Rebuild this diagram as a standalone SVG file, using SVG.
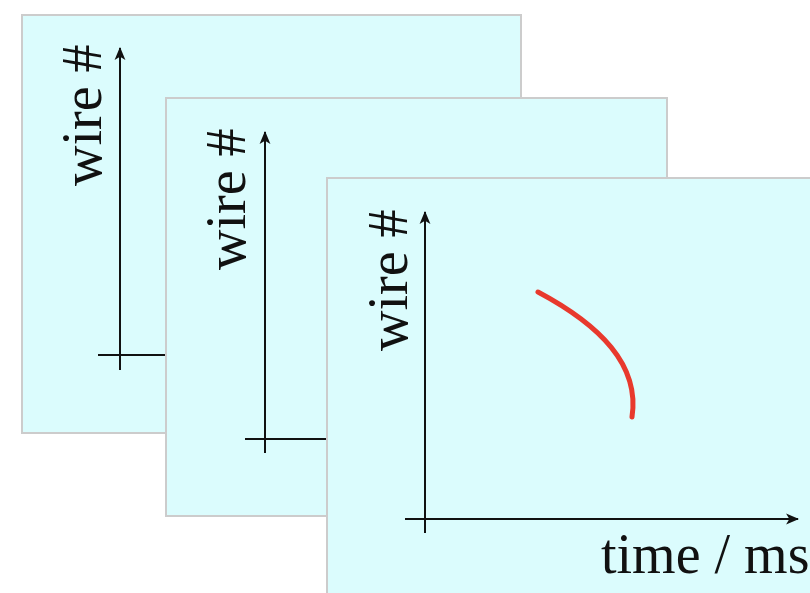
<svg xmlns="http://www.w3.org/2000/svg" width="810" height="593" viewBox="0 0 810 593">
<defs>
<marker id="ah" markerWidth="13" markerHeight="13" viewBox="0 0 12 12" refX="11" refY="6" orient="auto" markerUnits="userSpaceOnUse">
<path d="M0,1 L12,6 L0,11 L3,6 Z" fill="#111"/>
</marker>
<style>
.panel{fill:#dbfcfd;stroke:#cccccc;stroke-width:2}
.ax{stroke:#111;stroke-width:2;fill:none}
.lbl{font-family:"Liberation Serif","Times New Roman",serif;font-size:56px;fill:#111}
</style>
</defs>
<rect width="810" height="593" fill="#ffffff"/>
<g id="panel1">
<rect class="panel" x="22" y="15" width="499" height="418"/>
<line class="ax" x1="120" y1="370" x2="120" y2="48" marker-end="url(#ah)"/>
<line class="ax" x1="98" y1="355" x2="200" y2="355"/>
<text class="lbl" transform="translate(101,186) rotate(-90)">wire #</text>
</g>
<g id="panel2">
<rect class="panel" x="166" y="98" width="501" height="418"/>
<line class="ax" x1="265" y1="453" x2="265" y2="132" marker-end="url(#ah)"/>
<line class="ax" x1="245" y1="439" x2="340" y2="439"/>
<text class="lbl" transform="translate(245,270) rotate(-90)">wire #</text>
</g>
<g id="panel3">
<rect class="panel" x="327" y="178" width="500" height="430"/>
<line class="ax" x1="425" y1="533" x2="425" y2="212" marker-end="url(#ah)"/>
<line class="ax" x1="405" y1="519" x2="798" y2="519" marker-end="url(#ah)"/>
<text class="lbl" transform="translate(407,351) rotate(-90)">wire #</text>
<text class="lbl" x="601" y="573">time / ms</text>
<path d="M538,292 C600,325 640,365 632,417" fill="none" stroke="#e8392d" stroke-width="5" stroke-linecap="round"/>
</g>
</svg>
